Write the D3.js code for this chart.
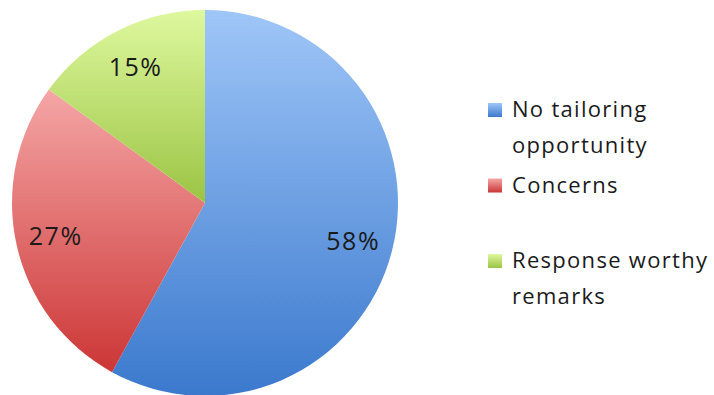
<!DOCTYPE html>
<html>
<head>
<script src="https://d3js.org/d3.v7.min.js"></script>
<style>
  body { margin: 0; padding: 0; background: #fff; }
  svg { display: block; }
  text { font-family: "Open Sans", "Noto Sans", sans-serif; fill: #1b1b1b; }
</style>
</head>
<body>
<script>
// chart data
var categories = ["No tailoring opportunity", "Concerns", "Response worthy remarks"];
var values = [58, 27, 15];
var legendLines = [["No tailoring", "opportunity"], ["Concerns"], ["Response worthy", "remarks"]];
var topColors = ["#9fc6f8", "#f5a6a6", "#def89e"];
var bottomColors = ["#3b79cd", "#cc3636", "#9bc443"];

var width = 714, height = 395;
var cx = 205, cy = 203, radius = 193;

var svg = d3.select("body").append("svg")
    .attr("width", width)
    .attr("height", height);

var defs = svg.append("defs");
categories.forEach(function(c, i) {
    var g = defs.append("linearGradient")
        .attr("id", "grad" + i)
        .attr("x1", 0).attr("y1", 0).attr("x2", 0).attr("y2", 1);
    g.append("stop").attr("offset", "0%").attr("stop-color", topColors[i]);
    g.append("stop").attr("offset", "100%").attr("stop-color", bottomColors[i]);
});

var pie = d3.pie().sort(null).value(function(d) { return d; });
var arcs = pie(values);

var arc = d3.arc().innerRadius(0).outerRadius(radius);
var labelArc = d3.arc().innerRadius(153).outerRadius(153);

var g = svg.append("g").attr("transform", "translate(" + cx + "," + cy + ")");

g.selectAll(".slice")
    .data(arcs)
    .enter().append("path")
    .attr("class", "slice")
    .attr("d", arc)
    .style("fill", function(d, i) { return "url(#grad" + i + ")"; });

g.selectAll(".pct")
    .data(arcs)
    .enter().append("text")
    .attr("class", "pct")
    .attr("transform", function(d) { return "translate(" + labelArc.centroid(d) + ")"; })
    .attr("text-anchor", "middle")
    .attr("dy", ".36em")
    .style("font-size", "25px")
    .style("letter-spacing", "1.5px")
    .text(function(d) { return d.value + "%"; });

// legend
var legend = svg.append("g").attr("transform", "translate(488,0)");
var item = legend.selectAll(".item")
    .data(legendLines)
    .enter().append("g")
    .attr("class", "item")
    .attr("transform", function(d, i) { return "translate(0," + (117 + i * 75.5) + ")"; });

item.append("rect")
    .attr("x", 0)
    .attr("y", -14)
    .attr("width", 14)
    .attr("height", 14)
    .style("fill", function(d, i) { return "url(#grad" + i + ")"; });

item.append("text")
    .attr("x", 24)
    .style("font-size", "22px")
    .style("letter-spacing", "1.3px")
    .selectAll("tspan")
    .data(function(d) { return d; })
    .enter().append("tspan")
    .attr("x", 24)
    .attr("y", function(d, j) { return j * 36; })
    .text(function(d) { return d; });
</script>
</body>
</html>
